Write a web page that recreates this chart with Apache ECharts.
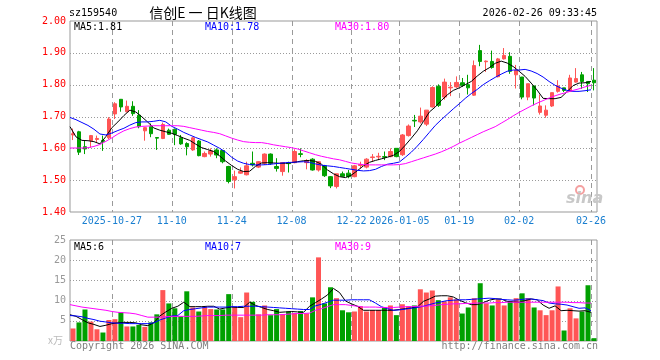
<!DOCTYPE html>
<html><head><meta charset="utf-8">
<script src="https://cdn.jsdelivr.net/npm/echarts@6/dist/echarts.min.js"></script>
<style>html,body{margin:0;padding:0;background:#fff}#c{width:660px;height:360px}</style>
</head><body><div id="c"></div><script>
const dates = ['2025-10-16','2025-10-17','2025-10-20','2025-10-21','2025-10-22','2025-10-23','2025-10-24','2025-10-27','2025-10-28','2025-10-29','2025-10-30','2025-10-31','2025-11-03','2025-11-04','2025-11-05','2025-11-06','2025-11-07','2025-11-10','2025-11-11','2025-11-12','2025-11-13','2025-11-14','2025-11-17','2025-11-18','2025-11-19','2025-11-20','2025-11-21','2025-11-24','2025-11-25','2025-11-26','2025-11-27','2025-11-28','2025-12-01','2025-12-02','2025-12-03','2025-12-04','2025-12-05','2025-12-08','2025-12-09','2025-12-10','2025-12-11','2025-12-12','2025-12-15','2025-12-16','2025-12-17','2025-12-18','2025-12-19','2025-12-22','2025-12-23','2025-12-24','2025-12-25','2025-12-26','2025-12-29','2025-12-30','2025-12-31','2026-01-05','2026-01-06','2026-01-07','2026-01-08','2026-01-09','2026-01-12','2026-01-13','2026-01-14','2026-01-15','2026-01-16','2026-01-19','2026-01-20','2026-01-21','2026-01-22','2026-01-23','2026-01-26','2026-01-27','2026-01-28','2026-01-29','2026-01-30','2026-02-02','2026-02-03','2026-02-04','2026-02-05','2026-02-06','2026-02-09','2026-02-10','2026-02-11','2026-02-12','2026-02-13','2026-02-24','2026-02-25','2026-02-26'];

const tickIdx = [7,17,27,37,47,55,65,75,87];
const tickLabels = ['2025-10-27','11-10','11-24','12-08','12-22','2026-01-05','01-19','02-02','02-26'];
const priceGridLevels = [1.5, 1.6, 1.7, 1.8, 1.9];
const volGridLevels = [5, 10, 15, 20];

const opens = [1.642,1.652,1.605,1.624,1.628,1.625,1.633,1.708,1.754,1.715,
1.732,1.704,1.655,1.668,1.634,1.631,1.657,1.660,1.633,1.615,
1.595,1.623,1.574,1.582,1.595,1.593,1.543,1.501,1.522,1.517,
1.553,1.541,1.553,1.582,1.543,1.527,1.554,1.555,1.583,1.555,
1.566,1.532,1.545,1.511,1.480,1.520,1.522,1.511,1.546,1.541,
1.571,1.573,1.574,1.574,1.600,1.580,1.640,1.688,1.683,1.676,
1.730,1.795,1.761,1.790,1.793,1.806,1.800,1.767,1.907,1.872,
1.873,1.825,1.881,1.889,1.831,1.824,1.761,1.796,1.713,1.704,
1.733,1.779,1.790,1.779,1.808,1.831,1.810,1.814];
const closes = [1.646,1.588,1.598,1.640,1.631,1.622,1.692,1.740,1.730,1.732,
1.709,1.668,1.665,1.646,1.632,1.675,1.644,1.644,1.614,1.605,
1.633,1.577,1.584,1.592,1.579,1.558,1.496,1.511,1.527,1.545,
1.548,1.558,1.582,1.553,1.537,1.555,1.552,1.590,1.581,1.561,
1.532,1.558,1.514,1.482,1.520,1.512,1.511,1.545,1.549,1.566,
1.573,1.575,1.572,1.590,1.574,1.642,1.670,1.686,1.701,1.720,
1.791,1.735,1.808,1.792,1.807,1.798,1.790,1.860,1.873,1.874,
1.854,1.881,1.892,1.842,1.845,1.761,1.803,1.758,1.733,1.720,
1.775,1.796,1.782,1.821,1.819,1.810,1.803,1.806];
const lows = [1.626,1.579,1.582,1.602,1.617,1.592,1.629,1.692,1.715,1.713,
1.702,1.663,1.624,1.635,1.595,1.629,1.642,1.610,1.611,1.578,
1.592,1.575,1.572,1.574,1.569,1.553,1.490,1.474,1.520,1.515,
1.543,1.538,1.548,1.548,1.527,1.514,1.524,1.553,1.572,1.534,
1.530,1.527,1.510,1.475,1.474,1.511,1.506,1.509,1.537,1.537,
1.558,1.563,1.563,1.572,1.572,1.576,1.637,1.667,1.678,1.670,
1.728,1.730,1.753,1.764,1.790,1.793,1.769,1.765,1.858,1.840,
1.850,1.823,1.879,1.834,1.788,1.754,1.751,1.735,1.706,1.696,
1.730,1.775,1.777,1.777,1.806,1.787,1.777,1.782];
const highs = [1.662,1.655,1.623,1.642,1.640,1.640,1.698,1.745,1.755,1.750,
1.748,1.720,1.667,1.678,1.635,1.681,1.662,1.662,1.642,1.619,
1.636,1.626,1.590,1.600,1.600,1.594,1.545,1.530,1.540,1.558,
1.590,1.560,1.584,1.584,1.569,1.557,1.558,1.597,1.600,1.566,
1.569,1.560,1.548,1.513,1.520,1.527,1.532,1.548,1.558,1.569,
1.582,1.586,1.590,1.600,1.600,1.645,1.675,1.705,1.728,1.720,
1.795,1.801,1.819,1.808,1.826,1.821,1.831,1.876,1.925,1.876,
1.907,1.884,1.915,1.902,1.862,1.824,1.803,1.796,1.769,1.735,
1.775,1.814,1.790,1.831,1.852,1.840,1.810,1.852];
const volumes = [3.1,4.6,7.8,4.8,2.9,2.1,5.2,5.4,7.1,3.6,
3.6,4.0,3.5,4.6,6.6,12.6,9.3,8.1,6.1,12.3,
8.3,7.3,8.4,7.9,7.8,7.8,11.6,8.4,5.9,12.0,
9.7,6.6,8.8,6.4,7.9,6.6,7.3,6.9,7.4,6.8,
10.8,20.7,9.3,13.3,10.6,7.6,7.1,7.3,8.6,7.3,
7.6,7.6,8.3,8.8,6.4,9.1,8.6,8.8,12.8,12.0,
12.5,10.1,9.8,10.8,10.3,6.8,8.3,10.6,14.3,9.3,
8.8,10.3,8.8,9.8,10.6,11.8,10.6,8.3,7.6,6.4,
7.6,13.5,2.6,8.1,5.6,7.3,13.8,0.7];

const ma5 = [1.668,1.636,1.625,1.624,1.621,1.614,1.637,1.665,1.683,1.703,
1.720,1.714,1.699,1.682,1.664,1.657,1.652,1.647,1.640,1.632,
1.625,1.613,1.602,1.596,1.590,1.576,1.560,1.546,1.534,1.527,
1.528,1.544,1.554,1.555,1.554,1.553,1.553,1.555,1.558,1.561,
1.562,1.559,1.550,1.532,1.520,1.511,1.508,1.516,1.530,1.545,
1.556,1.562,1.567,1.572,1.578,1.590,1.610,1.632,1.655,1.684,
1.714,1.730,1.750,1.768,1.782,1.790,1.800,1.810,1.827,1.842,
1.853,1.867,1.874,1.868,1.857,1.842,1.826,1.805,1.783,1.757,
1.756,1.756,1.760,1.778,1.797,1.805,1.806,1.810];
const ma10 = [1.697,1.690,1.681,1.672,1.660,1.645,1.642,1.648,1.656,1.663,
1.673,1.681,1.683,1.683,1.685,1.688,1.683,1.669,1.660,1.650,
1.642,1.634,1.627,1.620,1.610,1.600,1.588,1.572,1.560,1.553,
1.549,1.548,1.548,1.549,1.551,1.553,1.555,1.556,1.557,1.558,
1.556,1.551,1.547,1.545,1.543,1.540,1.537,1.534,1.531,1.529,
1.530,1.534,1.543,1.550,1.553,1.557,1.572,1.588,1.607,1.628,
1.650,1.672,1.690,1.707,1.724,1.740,1.757,1.772,1.785,1.800,
1.812,1.823,1.833,1.842,1.846,1.846,1.848,1.843,1.835,1.824,
1.810,1.798,1.789,1.782,1.779,1.779,1.781,1.784];
const ma30 = [1.601,1.601,1.601,1.602,1.606,1.612,1.622,1.633,1.645,1.655,
1.662,1.667,1.669,1.670,1.671,1.671,1.671,1.671,1.671,1.669,
1.665,1.661,1.657,1.653,1.650,1.646,1.639,1.632,1.626,1.621,
1.619,1.618,1.618,1.615,1.611,1.608,1.605,1.602,1.598,1.592,
1.586,1.580,1.575,1.571,1.567,1.564,1.559,1.554,1.551,1.549,
1.548,1.548,1.548,1.548,1.548,1.549,1.552,1.558,1.564,1.570,
1.576,1.582,1.589,1.597,1.606,1.616,1.625,1.634,1.643,1.652,
1.660,1.668,1.679,1.690,1.702,1.713,1.723,1.733,1.742,1.750,
1.758,1.765,1.771,1.776,1.782,1.787,1.793,1.798];
const volMa5 = [6.5,6.1,5.3,4.5,4.1,3.6,3.9,4.3,4.5,4.6,
4.6,4.5,4.0,3.8,4.5,6.2,7.2,8.1,8.6,9.6,
8.5,8.5,8.5,8.6,8.6,7.9,8.2,8.4,8.3,8.3,
9.6,8.8,8.3,7.8,7.5,7.1,7.2,7.3,7.2,7.1,
8.6,9.5,10.4,11.4,13.0,12.0,9.9,9.2,8.6,7.6,
7.6,7.6,7.6,7.6,7.6,7.8,8.0,8.2,8.4,9.8,
10.4,11.1,11.2,11.2,10.9,10.1,9.5,9.0,9.0,9.5,
10.1,10.4,10.4,9.8,9.7,9.6,10.0,10.4,10.2,8.9,
8.1,8.7,7.5,7.6,7.5,7.4,7.5,7.1];
const volMa10 = [6.3,6.2,6.0,5.6,5.3,4.9,4.7,4.5,4.4,4.4,
4.3,4.3,4.3,4.3,4.5,5.2,5.7,6.2,6.3,7.5,
7.8,8.0,8.2,8.4,8.4,8.4,8.4,8.5,8.5,8.6,
8.6,8.6,8.5,8.4,8.3,8.2,8.1,8.0,7.9,7.8,
7.8,8.7,9.1,9.6,10.1,10.1,10.1,10.2,10.2,10.2,
10.2,9.4,8.5,8.0,7.6,7.7,7.9,8.1,8.3,8.6,
9.0,9.4,9.7,10.0,10.1,10.2,10.2,10.3,10.4,10.5,
10.6,10.5,10.3,10.2,10.1,10.2,10.4,10.4,10.2,10.0,
9.4,9.2,9.1,8.9,8.5,8.1,8.2,7.5];
const volMa30 = [9.0,8.7,8.4,8.2,8.0,7.8,7.6,7.3,7.1,7.0,
6.9,6.7,6.3,5.9,5.9,5.9,6.0,6.1,6.1,6.1,
6.1,6.1,6.2,6.3,6.3,6.3,6.4,6.4,6.4,6.4,
6.4,6.4,6.4,6.5,6.5,6.5,6.6,6.7,6.8,6.8,
6.9,7.6,8.0,8.5,9.0,9.0,9.0,8.8,8.6,8.4,
8.4,8.4,8.3,8.3,8.3,8.4,8.5,8.5,8.6,8.6,
8.7,8.8,9.0,9.1,9.2,9.2,9.3,9.3,9.4,9.4,
9.4,9.5,9.5,9.6,9.6,9.6,9.6,9.6,9.6,9.6,
9.6,9.6,9.6,9.6,9.5,9.5,9.4,9.4];

const UP = '#ff5555', DOWN = '#00a000';
const MONO = 'DejaVu Sans Mono';
const GRIDC = '#9a9a9a';
const maCats = dates.concat(['']);

const candleData = dates.map((d, i) => [opens[i], closes[i], lows[i], highs[i]]);
const volData = volumes.map((v, i) => ({ value: v, itemStyle: { color: closes[i] >= opens[i] ? UP : DOWN } }));
const isTick = (i) => tickIdx.indexOf(i) >= 0;

function maLine(data, color, xi, yi) {
  return { type: 'line', data: data, xAxisIndex: xi, yAxisIndex: yi, symbol: 'none', silent: true,
    lineStyle: { color: color, width: 1 }, itemStyle: { color: color }, z: 5 };
}
function txt(text, x, y, color, align, font) {
  return { type: 'text', x: x, y: y, silent: true, z: 100,
    style: { text: text, fill: color, align: align || 'left', verticalAlign: 'middle', font: font || ('10px ' + MONO) } };
}

const chart = echarts.init(document.getElementById('c'));
chart.setOption({
  animation: false,
  grid: [
    { left: 70, top: 21, width: 527, height: 191, show: true, borderColor: '#999', borderWidth: 1 },
    { left: 70, top: 240, width: 527, height: 101, show: true, borderColor: '#999', borderWidth: 1 }
  ],
  xAxis: [
    { type: 'category', gridIndex: 0, data: dates, boundaryGap: true,
      axisLine: { show: false }, axisTick: { show: false },
      axisLabel: { interval: isTick, formatter: (v, i) => tickLabels[tickIdx.indexOf(i)] || '',
        color: '#1a7fd0', fontFamily: MONO, fontSize: 10, margin: 4, padding: [0, 6, 0, 0] },
      splitLine: { show: false } },
    { type: 'category', gridIndex: 1, data: dates, boundaryGap: true,
      axisLine: { show: false }, axisTick: { show: false }, axisLabel: { show: false },
      splitLine: { show: false } },
    { type: 'category', gridIndex: 0, data: maCats, boundaryGap: false, show: false },
    { type: 'category', gridIndex: 1, data: maCats, boundaryGap: false, show: false }
  ],
  yAxis: [
    { type: 'value', gridIndex: 0, min: 1.4, max: 2.0, interval: 0.1,
      axisLine: { show: false }, axisTick: { show: false },
      axisLabel: { formatter: (v) => v.toFixed(2), color: '#ff0000', fontFamily: MONO, fontSize: 10, margin: 4 },
      splitLine: { show: false } },
    { type: 'value', gridIndex: 1, min: 0, max: 25, interval: 5,
      axisLine: { show: false }, axisTick: { show: false },
      axisLabel: { formatter: (v) => v === 0 ? '' : String(v), color: '#999', fontFamily: MONO, fontSize: 10, margin: 4 },
      splitLine: { show: false } }
  ],
  series: [
    { type: 'candlestick', xAxisIndex: 0, yAxisIndex: 0, data: candleData, barWidth: 4, silent: true, z: 3,
      itemStyle: { color: UP, color0: DOWN, borderColor: UP, borderColor0: DOWN, borderWidth: 1 } },
    { type: 'bar', xAxisIndex: 1, yAxisIndex: 1, data: volData, barWidth: 5, silent: true, z: 3 },
    maLine(ma5, '#000000', 2, 0),
    maLine(ma10, '#0000ff', 2, 0),
    maLine(ma30, '#ff00ff', 2, 0),
    maLine(volMa5, '#000000', 3, 1),
    maLine(volMa10, '#0000ff', 3, 1),
    maLine(volMa30, '#ff00ff', 3, 1)
  ]
});

// grid lines placed through the chart's own axis scales
const px = (q, v) => chart.convertToPixel(q, v);
const xL = px({ xAxisIndex: 2 }, 0), xR = px({ xAxisIndex: 2 }, dates.length);
const panels = [
  { yi: 0, top: px({ yAxisIndex: 0 }, 2.0), bot: px({ yAxisIndex: 0 }, 1.4), levels: priceGridLevels },
  { yi: 1, top: px({ yAxisIndex: 1 }, 25), bot: px({ yAxisIndex: 1 }, 0), levels: volGridLevels }
];
const gridGraphics = [];
panels.forEach((p) => {
  p.levels.forEach((lv) => {
    const y = Math.round(px({ yAxisIndex: p.yi }, lv)) + 0.5;
    gridGraphics.push({ type: 'line', silent: true, z: 1,
      shape: { x1: xL, y1: y, x2: xR, y2: y },
      style: { stroke: GRIDC, lineWidth: 1, lineDash: [1, 2] } });
  });
  tickIdx.forEach((i) => {
    const x = Math.round(px({ xAxisIndex: 2 }, i)) + 0.5;
    gridGraphics.push({ type: 'line', silent: true, z: 1,
      shape: { x1: x, y1: p.top, x2: x, y2: p.bot },
      style: { stroke: GRIDC, lineWidth: 1, lineDash: [5, 4] } });
  });
});

chart.setOption({
  graphic: gridGraphics.concat([
    txt('sz159540', 69, 13, '#000'),
    txt('信创E 一 日K线图', 203, 13, '#000', 'center', '14px "Noto Sans CJK SC"'),
    txt('2026-02-26 09:33:45', 597, 13, '#000', 'right'),
    txt('MA5:1.81', 74, 27, '#000'),
    txt('MA10:1.78', 205, 27, '#0000ff'),
    txt('MA30:1.80', 335, 27, '#ff00ff'),
    txt('MA5:6', 74, 247, '#000'),
    txt('MA10:7', 205, 247, '#0000ff'),
    txt('MA30:9', 335, 247, '#ff00ff'),
    txt('x万', 48, 340, '#bbb', 'left', '10px "Noto Sans CJK SC"'),
    txt('Copyright 2026 SINA.COM', 70, 346, '#808080'),
    txt('http://finance.sina.com.cn', 598, 346, '#808080', 'right'),
    { type: 'circle', shape: { cx: 580, cy: 190, r: 4 }, style: { fill: 'none', stroke: '#f4a0a0', lineWidth: 2 }, silent: true, z: 1 },
    txt('sina', 566, 199, '#c8c8c8', 'left', 'italic bold 16px "DejaVu Sans"')
  ])
});
</script></body></html>
